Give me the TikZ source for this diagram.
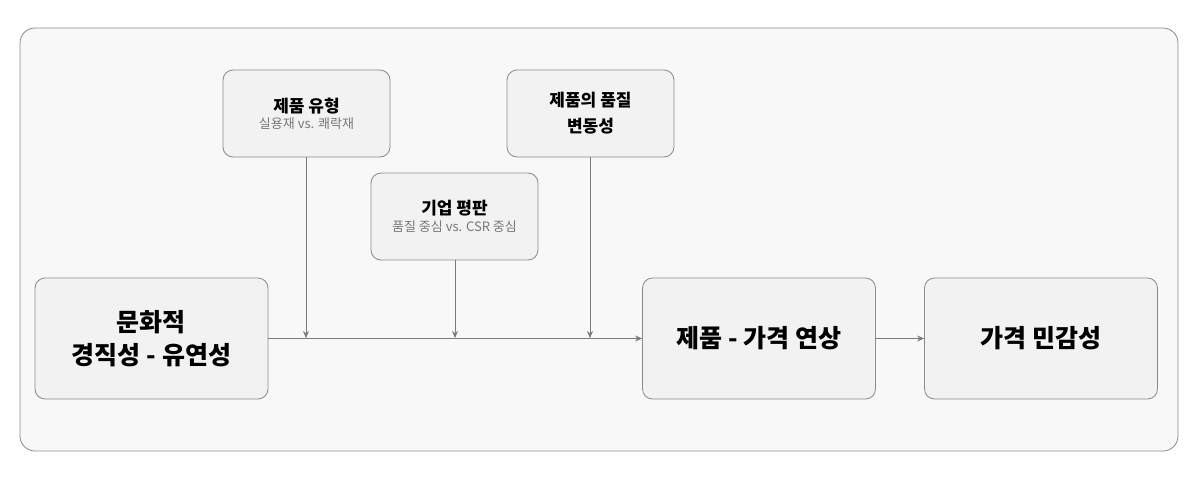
\documentclass[tikz,border=0pt]{standalone}
\usepackage{fontspec}
\setmainfont{Noto Sans CJK KR}
\newfontfamily\medf{Noto Sans CJK KR Medium}
\usetikzlibrary{arrows.meta}
\definecolor{bd}{HTML}{8A8A8A}
\definecolor{nf}{HTML}{F2F2F2}
\definecolor{bg}{HTML}{F8F8F8}
\definecolor{ar}{HTML}{7A7A7A}
\definecolor{sub}{HTML}{777777}
\begin{document}
\begin{tikzpicture}[x=1pt,y=-1pt,
  box/.style={draw=bd,fill=nf,rounded corners=10pt,line width=0.8pt,align=center,inner sep=0pt},
  big/.style={box,minimum width=233pt,minimum height=121pt,font=\bfseries\fontsize{25}{33}\selectfont},
  mod/.style={box,minimum width=167pt,minimum height=87pt},
  arr/.style={draw=ar,line width=0.9pt,-{Stealth[length=7pt,width=6pt]}}]
\useasboundingbox (0,0) rectangle (1200,483);
\draw[draw=bd,fill=bg,rounded corners=15pt,line width=0.8pt] (20,28) rectangle (1178,451);
\node[big] (a) at (151.5,338.5) {문화적\\경직성 - 유연성};
\node[big] (b) at (759,338.5) {제품 - 가격 연상};
\node[big] (c) at (1041,338.5) {가격 민감성};
\node[mod] (m1) at (306.5,113.5) {{\bfseries\fontsize{17}{22}\selectfont 제품 유형}\\[3pt]{\color{sub}\fontsize{13}{16}\selectfont 실용재 vs. 쾌락재}};
\node[mod] (m2) at (454.5,216.5) {{\bfseries\fontsize{17}{22}\selectfont 기업 평판}\\[3pt]{\color{sub}\fontsize{13}{16}\selectfont 품질 중심 vs. CSR 중심}};
\node[mod,font=\bfseries\fontsize{17}{26}\selectfont] (m3) at (590.5,113.5) {제품의 품질\\변동성};
\coordinate (p1) at (306,338);
\coordinate (p2) at (455,338);
\coordinate (p3) at (590,338);
\draw[arr] (a.east) -- (b.west);
\draw[arr] (b.east) -- (c.west);
\draw[arr] (m1.south -| p1) -- (p1);
\draw[arr] (m2.south -| p2) -- (p2);
\draw[arr] (m3.south -| p3) -- (p3);
\end{tikzpicture}
\end{document}
